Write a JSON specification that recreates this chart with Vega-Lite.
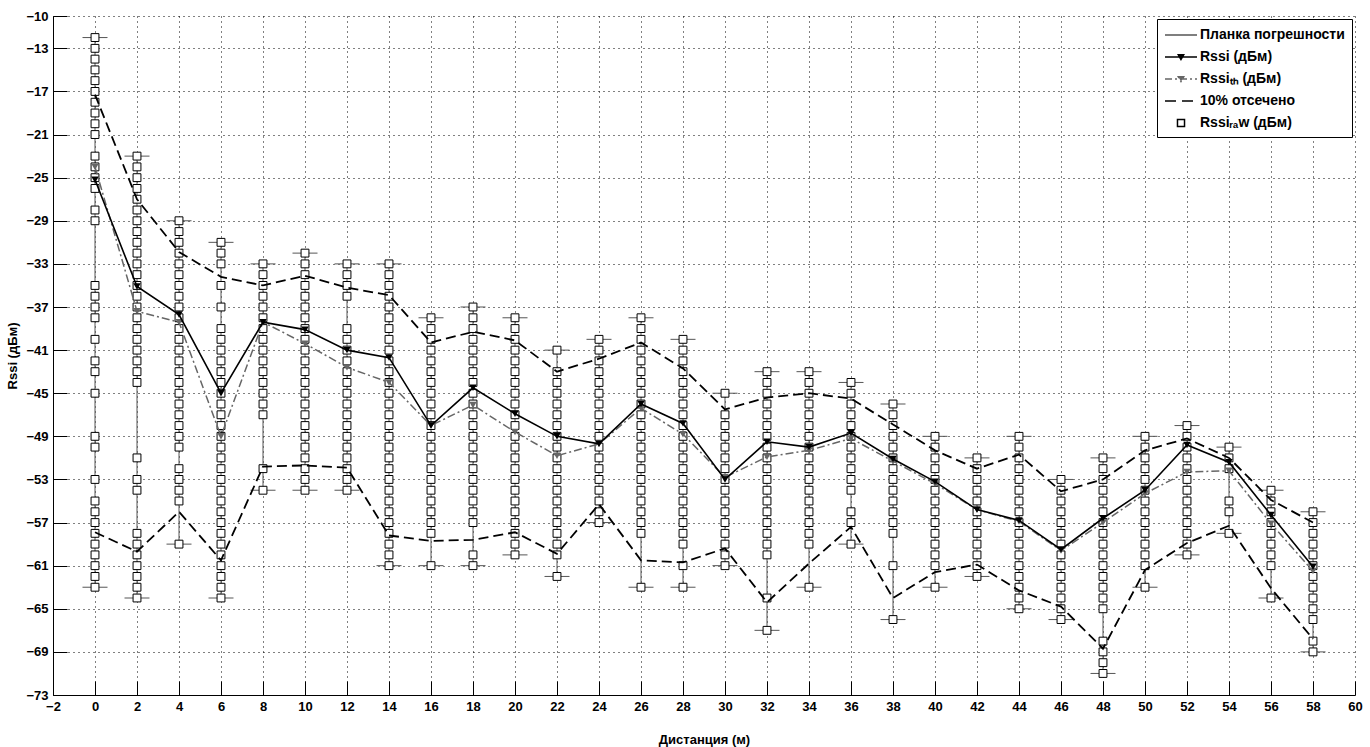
{
  "$schema": "https://vega.github.io/schema/vega-lite/v6.json",
  "autosize": "none",
  "width": 1302,
  "height": 679,
  "padding": {"left": 53, "top": 16, "right": 15, "bottom": 52},
  "background": "white",
  "datasets": {
    "raw": [
      {"d":0,"v":-12},{"d":0,"v":-13},{"d":0,"v":-14},{"d":0,"v":-15},{"d":0,"v":-16},{"d":0,"v":-17},{"d":0,"v":-18},{"d":0,"v":-19},{"d":0,"v":-20},{"d":0,"v":-21},{"d":0,"v":-23},{"d":0,"v":-24},{"d":0,"v":-25},{"d":0,"v":-26},{"d":0,"v":-28},{"d":0,"v":-29},{"d":0,"v":-35},{"d":0,"v":-36},{"d":0,"v":-37},{"d":0,"v":-38},{"d":0,"v":-40},{"d":0,"v":-42},{"d":0,"v":-43},{"d":0,"v":-45},{"d":0,"v":-49},{"d":0,"v":-50},{"d":0,"v":-53},{"d":0,"v":-55},{"d":0,"v":-56},{"d":0,"v":-57},{"d":0,"v":-58},{"d":0,"v":-59},{"d":0,"v":-60},{"d":0,"v":-61},{"d":0,"v":-62},{"d":0,"v":-63},
      {"d":2,"v":-23},{"d":2,"v":-24},{"d":2,"v":-25},{"d":2,"v":-26},{"d":2,"v":-27},{"d":2,"v":-28},{"d":2,"v":-29},{"d":2,"v":-30},{"d":2,"v":-31},{"d":2,"v":-32},{"d":2,"v":-33},{"d":2,"v":-34},{"d":2,"v":-35},{"d":2,"v":-36},{"d":2,"v":-37},{"d":2,"v":-38},{"d":2,"v":-39},{"d":2,"v":-40},{"d":2,"v":-41},{"d":2,"v":-42},{"d":2,"v":-43},{"d":2,"v":-44},{"d":2,"v":-51},{"d":2,"v":-53},{"d":2,"v":-54},{"d":2,"v":-58},{"d":2,"v":-59},{"d":2,"v":-60},{"d":2,"v":-61},{"d":2,"v":-62},{"d":2,"v":-63},{"d":2,"v":-64},
      {"d":4,"v":-29},{"d":4,"v":-30},{"d":4,"v":-31},{"d":4,"v":-32},{"d":4,"v":-33},{"d":4,"v":-34},{"d":4,"v":-35},{"d":4,"v":-36},{"d":4,"v":-37},{"d":4,"v":-38},{"d":4,"v":-39},{"d":4,"v":-40},{"d":4,"v":-41},{"d":4,"v":-42},{"d":4,"v":-43},{"d":4,"v":-44},{"d":4,"v":-45},{"d":4,"v":-46},{"d":4,"v":-47},{"d":4,"v":-48},{"d":4,"v":-49},{"d":4,"v":-50},{"d":4,"v":-52},{"d":4,"v":-53},{"d":4,"v":-54},{"d":4,"v":-55},{"d":4,"v":-59},
      {"d":6,"v":-31},{"d":6,"v":-32},{"d":6,"v":-33},{"d":6,"v":-35},{"d":6,"v":-37},{"d":6,"v":-39},{"d":6,"v":-40},{"d":6,"v":-41},{"d":6,"v":-42},{"d":6,"v":-43},{"d":6,"v":-44},{"d":6,"v":-45},{"d":6,"v":-46},{"d":6,"v":-47},{"d":6,"v":-48},{"d":6,"v":-49},{"d":6,"v":-50},{"d":6,"v":-51},{"d":6,"v":-52},{"d":6,"v":-53},{"d":6,"v":-54},{"d":6,"v":-55},{"d":6,"v":-56},{"d":6,"v":-57},{"d":6,"v":-58},{"d":6,"v":-59},{"d":6,"v":-60},{"d":6,"v":-61},{"d":6,"v":-62},{"d":6,"v":-63},{"d":6,"v":-64},
      {"d":8,"v":-33},{"d":8,"v":-34},{"d":8,"v":-35},{"d":8,"v":-36},{"d":8,"v":-37},{"d":8,"v":-38},{"d":8,"v":-39},{"d":8,"v":-40},{"d":8,"v":-41},{"d":8,"v":-42},{"d":8,"v":-43},{"d":8,"v":-44},{"d":8,"v":-45},{"d":8,"v":-46},{"d":8,"v":-47},{"d":8,"v":-52},{"d":8,"v":-54},
      {"d":10,"v":-32},{"d":10,"v":-33},{"d":10,"v":-34},{"d":10,"v":-35},{"d":10,"v":-36},{"d":10,"v":-37},{"d":10,"v":-38},{"d":10,"v":-39},{"d":10,"v":-40},{"d":10,"v":-41},{"d":10,"v":-42},{"d":10,"v":-43},{"d":10,"v":-44},{"d":10,"v":-45},{"d":10,"v":-46},{"d":10,"v":-47},{"d":10,"v":-48},{"d":10,"v":-49},{"d":10,"v":-50},{"d":10,"v":-51},{"d":10,"v":-52},{"d":10,"v":-53},{"d":10,"v":-54},
      {"d":12,"v":-33},{"d":12,"v":-34},{"d":12,"v":-35},{"d":12,"v":-36},{"d":12,"v":-39},{"d":12,"v":-40},{"d":12,"v":-41},{"d":12,"v":-42},{"d":12,"v":-43},{"d":12,"v":-44},{"d":12,"v":-45},{"d":12,"v":-46},{"d":12,"v":-47},{"d":12,"v":-48},{"d":12,"v":-49},{"d":12,"v":-50},{"d":12,"v":-51},{"d":12,"v":-52},{"d":12,"v":-53},{"d":12,"v":-54},
      {"d":14,"v":-33},{"d":14,"v":-34},{"d":14,"v":-35},{"d":14,"v":-36},{"d":14,"v":-37},{"d":14,"v":-38},{"d":14,"v":-39},{"d":14,"v":-40},{"d":14,"v":-41},{"d":14,"v":-42},{"d":14,"v":-43},{"d":14,"v":-44},{"d":14,"v":-45},{"d":14,"v":-46},{"d":14,"v":-47},{"d":14,"v":-48},{"d":14,"v":-49},{"d":14,"v":-50},{"d":14,"v":-51},{"d":14,"v":-52},{"d":14,"v":-53},{"d":14,"v":-54},{"d":14,"v":-55},{"d":14,"v":-56},{"d":14,"v":-57},{"d":14,"v":-58},{"d":14,"v":-59},{"d":14,"v":-60},{"d":14,"v":-61},
      {"d":16,"v":-38},{"d":16,"v":-39},{"d":16,"v":-40},{"d":16,"v":-41},{"d":16,"v":-42},{"d":16,"v":-43},{"d":16,"v":-44},{"d":16,"v":-45},{"d":16,"v":-46},{"d":16,"v":-47},{"d":16,"v":-48},{"d":16,"v":-49},{"d":16,"v":-50},{"d":16,"v":-51},{"d":16,"v":-52},{"d":16,"v":-53},{"d":16,"v":-54},{"d":16,"v":-55},{"d":16,"v":-56},{"d":16,"v":-57},{"d":16,"v":-58},{"d":16,"v":-61},
      {"d":18,"v":-37},{"d":18,"v":-38},{"d":18,"v":-39},{"d":18,"v":-40},{"d":18,"v":-41},{"d":18,"v":-42},{"d":18,"v":-43},{"d":18,"v":-44},{"d":18,"v":-45},{"d":18,"v":-46},{"d":18,"v":-47},{"d":18,"v":-48},{"d":18,"v":-49},{"d":18,"v":-50},{"d":18,"v":-51},{"d":18,"v":-52},{"d":18,"v":-53},{"d":18,"v":-54},{"d":18,"v":-55},{"d":18,"v":-56},{"d":18,"v":-57},{"d":18,"v":-60},{"d":18,"v":-61},
      {"d":20,"v":-38},{"d":20,"v":-39},{"d":20,"v":-40},{"d":20,"v":-41},{"d":20,"v":-42},{"d":20,"v":-43},{"d":20,"v":-44},{"d":20,"v":-45},{"d":20,"v":-46},{"d":20,"v":-47},{"d":20,"v":-48},{"d":20,"v":-49},{"d":20,"v":-50},{"d":20,"v":-51},{"d":20,"v":-52},{"d":20,"v":-53},{"d":20,"v":-54},{"d":20,"v":-55},{"d":20,"v":-56},{"d":20,"v":-57},{"d":20,"v":-58},{"d":20,"v":-59},{"d":20,"v":-60},
      {"d":22,"v":-41},{"d":22,"v":-43},{"d":22,"v":-44},{"d":22,"v":-45},{"d":22,"v":-46},{"d":22,"v":-47},{"d":22,"v":-48},{"d":22,"v":-49},{"d":22,"v":-50},{"d":22,"v":-51},{"d":22,"v":-52},{"d":22,"v":-53},{"d":22,"v":-54},{"d":22,"v":-55},{"d":22,"v":-56},{"d":22,"v":-57},{"d":22,"v":-58},{"d":22,"v":-59},{"d":22,"v":-60},{"d":22,"v":-62},
      {"d":24,"v":-40},{"d":24,"v":-41},{"d":24,"v":-42},{"d":24,"v":-43},{"d":24,"v":-44},{"d":24,"v":-45},{"d":24,"v":-46},{"d":24,"v":-47},{"d":24,"v":-48},{"d":24,"v":-49},{"d":24,"v":-50},{"d":24,"v":-51},{"d":24,"v":-52},{"d":24,"v":-53},{"d":24,"v":-54},{"d":24,"v":-55},{"d":24,"v":-56},{"d":24,"v":-57},
      {"d":26,"v":-38},{"d":26,"v":-39},{"d":26,"v":-40},{"d":26,"v":-41},{"d":26,"v":-42},{"d":26,"v":-43},{"d":26,"v":-44},{"d":26,"v":-45},{"d":26,"v":-46},{"d":26,"v":-47},{"d":26,"v":-48},{"d":26,"v":-49},{"d":26,"v":-50},{"d":26,"v":-51},{"d":26,"v":-52},{"d":26,"v":-53},{"d":26,"v":-54},{"d":26,"v":-55},{"d":26,"v":-56},{"d":26,"v":-57},{"d":26,"v":-58},{"d":26,"v":-63},
      {"d":28,"v":-40},{"d":28,"v":-41},{"d":28,"v":-42},{"d":28,"v":-43},{"d":28,"v":-44},{"d":28,"v":-45},{"d":28,"v":-46},{"d":28,"v":-47},{"d":28,"v":-48},{"d":28,"v":-49},{"d":28,"v":-50},{"d":28,"v":-51},{"d":28,"v":-52},{"d":28,"v":-53},{"d":28,"v":-54},{"d":28,"v":-55},{"d":28,"v":-56},{"d":28,"v":-57},{"d":28,"v":-58},{"d":28,"v":-59},{"d":28,"v":-61},{"d":28,"v":-63},
      {"d":30,"v":-45},{"d":30,"v":-47},{"d":30,"v":-48},{"d":30,"v":-49},{"d":30,"v":-50},{"d":30,"v":-51},{"d":30,"v":-52},{"d":30,"v":-53},{"d":30,"v":-54},{"d":30,"v":-55},{"d":30,"v":-56},{"d":30,"v":-57},{"d":30,"v":-58},{"d":30,"v":-59},{"d":30,"v":-60},{"d":30,"v":-61},
      {"d":32,"v":-43},{"d":32,"v":-44},{"d":32,"v":-45},{"d":32,"v":-46},{"d":32,"v":-47},{"d":32,"v":-48},{"d":32,"v":-49},{"d":32,"v":-50},{"d":32,"v":-51},{"d":32,"v":-52},{"d":32,"v":-53},{"d":32,"v":-54},{"d":32,"v":-55},{"d":32,"v":-56},{"d":32,"v":-57},{"d":32,"v":-58},{"d":32,"v":-59},{"d":32,"v":-60},{"d":32,"v":-64},{"d":32,"v":-67},
      {"d":34,"v":-43},{"d":34,"v":-44},{"d":34,"v":-45},{"d":34,"v":-46},{"d":34,"v":-47},{"d":34,"v":-48},{"d":34,"v":-49},{"d":34,"v":-50},{"d":34,"v":-51},{"d":34,"v":-52},{"d":34,"v":-53},{"d":34,"v":-54},{"d":34,"v":-55},{"d":34,"v":-56},{"d":34,"v":-57},{"d":34,"v":-58},{"d":34,"v":-59},{"d":34,"v":-63},
      {"d":36,"v":-44},{"d":36,"v":-45},{"d":36,"v":-46},{"d":36,"v":-47},{"d":36,"v":-48},{"d":36,"v":-49},{"d":36,"v":-50},{"d":36,"v":-51},{"d":36,"v":-52},{"d":36,"v":-53},{"d":36,"v":-54},{"d":36,"v":-56},{"d":36,"v":-57},{"d":36,"v":-59},
      {"d":38,"v":-46},{"d":38,"v":-47},{"d":38,"v":-48},{"d":38,"v":-49},{"d":38,"v":-50},{"d":38,"v":-51},{"d":38,"v":-52},{"d":38,"v":-53},{"d":38,"v":-54},{"d":38,"v":-55},{"d":38,"v":-56},{"d":38,"v":-57},{"d":38,"v":-58},{"d":38,"v":-61},{"d":38,"v":-66},
      {"d":40,"v":-49},{"d":40,"v":-50},{"d":40,"v":-51},{"d":40,"v":-52},{"d":40,"v":-53},{"d":40,"v":-54},{"d":40,"v":-55},{"d":40,"v":-56},{"d":40,"v":-57},{"d":40,"v":-58},{"d":40,"v":-59},{"d":40,"v":-60},{"d":40,"v":-61},{"d":40,"v":-63},
      {"d":42,"v":-51},{"d":42,"v":-52},{"d":42,"v":-53},{"d":42,"v":-54},{"d":42,"v":-55},{"d":42,"v":-56},{"d":42,"v":-57},{"d":42,"v":-58},{"d":42,"v":-59},{"d":42,"v":-60},{"d":42,"v":-61},{"d":42,"v":-62},
      {"d":44,"v":-49},{"d":44,"v":-50},{"d":44,"v":-51},{"d":44,"v":-52},{"d":44,"v":-53},{"d":44,"v":-54},{"d":44,"v":-55},{"d":44,"v":-56},{"d":44,"v":-57},{"d":44,"v":-58},{"d":44,"v":-59},{"d":44,"v":-60},{"d":44,"v":-61},{"d":44,"v":-62},{"d":44,"v":-63},{"d":44,"v":-64},{"d":44,"v":-65},
      {"d":46,"v":-53},{"d":46,"v":-54},{"d":46,"v":-55},{"d":46,"v":-56},{"d":46,"v":-57},{"d":46,"v":-58},{"d":46,"v":-59},{"d":46,"v":-60},{"d":46,"v":-61},{"d":46,"v":-62},{"d":46,"v":-63},{"d":46,"v":-64},{"d":46,"v":-65},{"d":46,"v":-66},
      {"d":48,"v":-51},{"d":48,"v":-52},{"d":48,"v":-53},{"d":48,"v":-54},{"d":48,"v":-55},{"d":48,"v":-56},{"d":48,"v":-57},{"d":48,"v":-58},{"d":48,"v":-59},{"d":48,"v":-60},{"d":48,"v":-61},{"d":48,"v":-62},{"d":48,"v":-63},{"d":48,"v":-64},{"d":48,"v":-65},{"d":48,"v":-68},{"d":48,"v":-69},{"d":48,"v":-70},{"d":48,"v":-71},
      {"d":50,"v":-49},{"d":50,"v":-50},{"d":50,"v":-51},{"d":50,"v":-52},{"d":50,"v":-53},{"d":50,"v":-54},{"d":50,"v":-55},{"d":50,"v":-56},{"d":50,"v":-57},{"d":50,"v":-58},{"d":50,"v":-59},{"d":50,"v":-60},{"d":50,"v":-61},{"d":50,"v":-63},
      {"d":52,"v":-48},{"d":52,"v":-49},{"d":52,"v":-50},{"d":52,"v":-51},{"d":52,"v":-52},{"d":52,"v":-53},{"d":52,"v":-54},{"d":52,"v":-55},{"d":52,"v":-56},{"d":52,"v":-57},{"d":52,"v":-58},{"d":52,"v":-59},{"d":52,"v":-60},
      {"d":54,"v":-50},{"d":54,"v":-51},{"d":54,"v":-52},{"d":54,"v":-55},{"d":54,"v":-56},{"d":54,"v":-58},
      {"d":56,"v":-54},{"d":56,"v":-55},{"d":56,"v":-56},{"d":56,"v":-57},{"d":56,"v":-58},{"d":56,"v":-59},{"d":56,"v":-60},{"d":56,"v":-61},{"d":56,"v":-64},
      {"d":58,"v":-56},{"d":58,"v":-57},{"d":58,"v":-58},{"d":58,"v":-59},{"d":58,"v":-60},{"d":58,"v":-61},{"d":58,"v":-62},{"d":58,"v":-63},{"d":58,"v":-64},{"d":58,"v":-65},{"d":58,"v":-66},{"d":58,"v":-68},{"d":58,"v":-69}
    ],
    "lines": [
      {"d":0,"rssi":-25.2,"th":-24,"up":-17.3,"lo":-57.9},
      {"d":2,"rssi":-35.1,"th":-37.4,"up":-27,"lo":-59.7},
      {"d":4,"rssi":-37.7,"th":-38.4,"up":-31.9,"lo":-56},
      {"d":6,"rssi":-45,"th":-49,"up":-34.2,"lo":-60.5},
      {"d":8,"rssi":-38.4,"th":-38.4,"up":-35,"lo":-51.8},
      {"d":10,"rssi":-39.1,"th":-40.4,"up":-34.1,"lo":-51.7},
      {"d":12,"rssi":-41,"th":-42.6,"up":-35.2,"lo":-51.9},
      {"d":14,"rssi":-41.7,"th":-44,"up":-35.9,"lo":-58.2},
      {"d":16,"rssi":-48,"th":-48,"up":-40.3,"lo":-58.7},
      {"d":18,"rssi":-44.5,"th":-46.1,"up":-39.3,"lo":-58.6},
      {"d":20,"rssi":-46.9,"th":-48.6,"up":-40.1,"lo":-57.9},
      {"d":22,"rssi":-49,"th":-50.8,"up":-43,"lo":-59.9},
      {"d":24,"rssi":-49.7,"th":-49.7,"up":-41.8,"lo":-55.3},
      {"d":26,"rssi":-46,"th":-46.4,"up":-40.3,"lo":-60.5},
      {"d":28,"rssi":-47.8,"th":-48.8,"up":-42.7,"lo":-60.7},
      {"d":30,"rssi":-53,"th":-52.8,"up":-46.5,"lo":-59.4},
      {"d":32,"rssi":-49.5,"th":-50.9,"up":-45.4,"lo":-64.4},
      {"d":34,"rssi":-50,"th":-50.3,"up":-45,"lo":-60.8},
      {"d":36,"rssi":-48.7,"th":-49.2,"up":-45.5,"lo":-57.4},
      {"d":38,"rssi":-51.1,"th":-51.3,"up":-47.9,"lo":-64},
      {"d":40,"rssi":-53.2,"th":-53.4,"up":-50.3,"lo":-61.6},
      {"d":42,"rssi":-55.8,"th":-55.8,"up":-52,"lo":-60.9},
      {"d":44,"rssi":-56.8,"th":-56.9,"up":-50.7,"lo":-63.3},
      {"d":46,"rssi":-59.5,"th":-59.6,"up":-54.1,"lo":-64.8},
      {"d":48,"rssi":-56.6,"th":-57,"up":-53,"lo":-68.7},
      {"d":50,"rssi":-54,"th":-54.3,"up":-50.3,"lo":-61.4},
      {"d":52,"rssi":-49.8,"th":-52.3,"up":-49.2,"lo":-58.9},
      {"d":54,"rssi":-51.4,"th":-52.2,"up":-51,"lo":-57.3},
      {"d":56,"rssi":-56.3,"th":-57.1,"up":-54.9,"lo":-63.1},
      {"d":58,"rssi":-61.1,"th":-61.5,"up":-57,"lo":-67.8}
    ]
  },
  "encoding": {
    "x": {
      "field": "d", "type": "quantitative", "title": "Дистанция (м)",
      "scale": {"domain": [-2, 60], "nice": false, "zero": false},
      "axis": {
        "values": [-2,0,2,4,6,8,10,12,14,16,18,20,22,24,26,28,30,32,34,36,38,40,42,44,46,48,50,52,54,56,58,60],
        "format": "d", "titlePadding": 20
      }
    }
  },
  "layer": [
    {
      "data": {"name": "raw"},
      "transform": [{"aggregate": [{"op": "min", "field": "v", "as": "vmin"}, {"op": "max", "field": "v", "as": "vmax"}], "groupby": ["d"]}],
      "mark": {"type": "rule", "strokeWidth": 1},
      "encoding": {
        "y": {
          "field": "vmin", "type": "quantitative", "title": "Rssi (дБм)",
          "scale": {"domain": [-73, -10], "nice": false, "zero": false},
          "axis": {
            "values": [-73,-69,-65,-61,-57,-53,-49,-45,-41,-37,-33,-29,-25,-21,-17,-13,-10],
            "format": "d", "titlePadding": 6
          }
        },
        "y2": {"field": "vmax"},
        "color": {
          "datum": "Планка погрешности",
          "scale": {
            "domain": ["Планка погрешности", "Rssi (дБм)", "Rssiₜₕ (дБм)", "10% отсечено", "Rssiᵣₐw (дБм)"],
            "range": ["#555555", "#000000", "#666666", "#000000", "#000000"]
          },
          "legend": {
            "title": null,
            "orient": "top-right",
            "offset": 3,
            "padding": 7,
            "rowPadding": 6,
            "strokeColor": "black",
            "fillColor": "white",
            "symbolSize": 256,
            "symbolStrokeWidth": 1.5,
            "labelOffset": 18,
            "labelFont": "Liberation Sans",
            "labelFontWeight": "bold",
            "labelFontSize": 14,
            "labelColor": "black",
            "encode": {
              "symbols": {
                "update": {
                  "shape": {"signal": "datum.value == 'Rssi (дБм)' || datum.value == 'Rssiₜₕ (дБм)' ? 'M-1,0H3M0.66,-0.28H1.34L1,0.32Z' : datum.value == 'Rssiᵣₐw (дБм)' ? 'M0.56,-0.44H1.44V0.44H0.56Z' : 'M-1,0H3'"},
                  "fill": {"signal": "datum.value == 'Rssi (дБм)' ? 'black' : datum.value == 'Rssiₜₕ (дБм)' ? '#666666' : datum.value == 'Rssiᵣₐw (дБм)' ? 'white' : 'transparent'"},
                  "stroke": {"signal": "datum.value == 'Планка погрешности' ? '#555555' : datum.value == 'Rssiₜₕ (дБм)' ? '#666666' : 'black'"},
                  "strokeDash": {"signal": "datum.value == 'Rssiₜₕ (дБм)' ? [7, 3, 2, 3] : datum.value == '10% отсечено' ? [11, 6] : [1, 0]"},
                  "opacity": {"value": 1}
                }
              }
            }
          }
        }
      }
    },
    {
      "data": {"name": "raw"},
      "transform": [
        {"aggregate": [{"op": "min", "field": "v", "as": "vmin"}, {"op": "max", "field": "v", "as": "vmax"}], "groupby": ["d"]},
        {"fold": ["vmin", "vmax"], "as": ["end", "val"]}
      ],
      "mark": {"type": "tick", "orient": "horizontal", "size": 25, "thickness": 1, "color": "#555555", "opacity": 1},
      "encoding": {
        "y": {"field": "val", "type": "quantitative", "title": "Rssi (дБм)"}
      }
    },
    {
      "data": {"name": "raw"},
      "mark": {"type": "point", "shape": "square", "size": 62, "filled": true, "fill": "white", "stroke": "black", "strokeWidth": 1, "opacity": 1},
      "encoding": {
        "y": {"field": "v", "type": "quantitative", "title": "Rssi (дБм)"}
      }
    },
    {
      "data": {"name": "lines"},
      "mark": {"type": "line", "color": "black", "strokeWidth": 1.8, "strokeDash": [10, 5]},
      "encoding": {
        "y": {"field": "up", "type": "quantitative", "title": "Rssi (дБм)"}
      }
    },
    {
      "data": {"name": "lines"},
      "mark": {"type": "line", "color": "black", "strokeWidth": 1.8, "strokeDash": [10, 5]},
      "encoding": {
        "y": {"field": "lo", "type": "quantitative", "title": "Rssi (дБм)"}
      }
    },
    {
      "data": {"name": "lines"},
      "mark": {"type": "line", "color": "#666666", "strokeWidth": 1.5, "strokeDash": [8, 3, 2, 3]},
      "encoding": {
        "y": {"field": "th", "type": "quantitative", "title": "Rssi (дБм)"}
      }
    },
    {
      "data": {"name": "lines"},
      "mark": {"type": "point", "shape": "triangle-down", "size": 55, "filled": true, "color": "#666666", "opacity": 1},
      "encoding": {
        "y": {"field": "th", "type": "quantitative", "title": "Rssi (дБм)"}
      }
    },
    {
      "data": {"name": "lines"},
      "mark": {"type": "line", "color": "black", "strokeWidth": 1.6},
      "encoding": {
        "y": {"field": "rssi", "type": "quantitative", "title": "Rssi (дБм)"}
      }
    },
    {
      "data": {"name": "lines"},
      "mark": {"type": "point", "shape": "triangle-down", "size": 55, "filled": true, "color": "black", "opacity": 1},
      "encoding": {
        "y": {"field": "rssi", "type": "quantitative", "title": "Rssi (дБм)"}
      }
    }
  ],
  "config": {
    "view": {"stroke": null},
    "axis": {
      "domainColor": "black",
      "domainWidth": 1,
      "tickColor": "black",
      "tickWidth": 1,
      "tickSize": -14,
      "labelPadding": 19,
      "grid": true,
      "gridColor": "black",
      "gridDash": [1, 4],
      "gridOpacity": 1,
      "gridWidth": 1,
      "labelFont": "Liberation Sans",
      "labelFontWeight": "bold",
      "labelFontSize": 13,
      "labelColor": "black",
      "labelFlush": false,
      "labelOverlap": false,
      "titleFont": "Liberation Sans",
      "titleFontWeight": "bold",
      "titleFontSize": 13,
      "titleColor": "black"
    }
  }
}
